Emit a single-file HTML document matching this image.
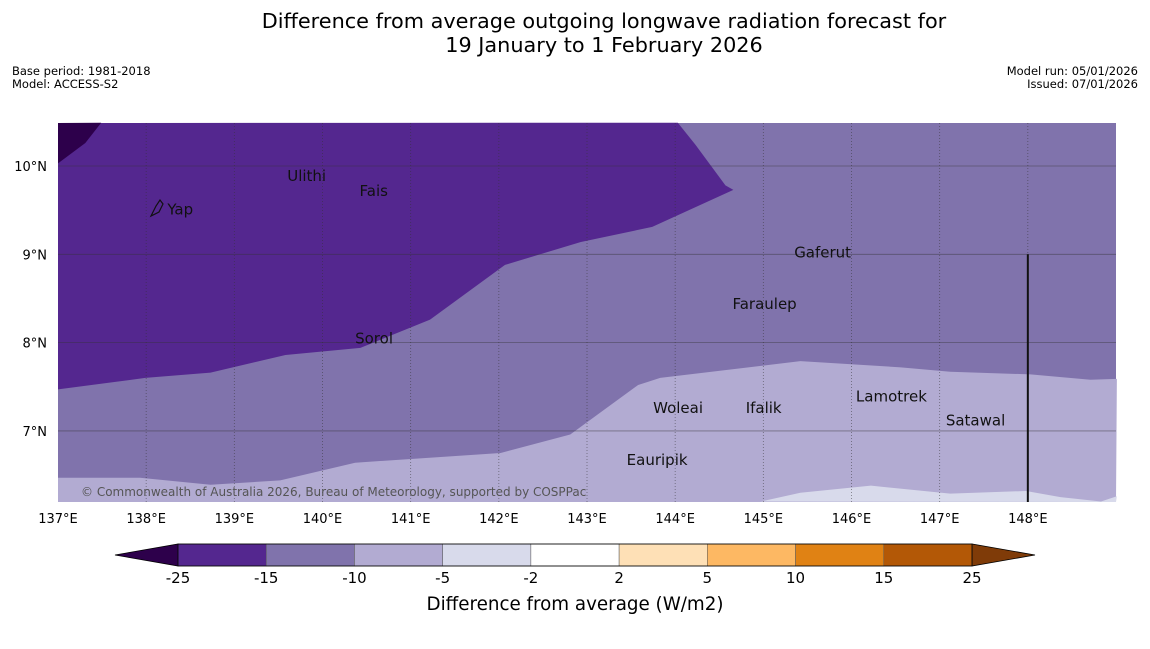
<!DOCTYPE html>
<html><head><meta charset="utf-8"><style>
body{margin:0;background:#fff;font-family:"Liberation Sans","DejaVu Sans",sans-serif;}
svg text{font-family:"DejaVu Sans","Liberation Sans",sans-serif;}
</style></head><body>
<svg id="c" width="1150" height="644" xmlns="http://www.w3.org/2000/svg">
<text x="604" y="28" font-size="20.8" text-anchor="middle">Difference from average outgoing longwave radiation forecast for</text>
<text x="604" y="52" font-size="20.8" text-anchor="middle">19 January to 1 February 2026</text>
<text x="12" y="75" font-size="11.5">Base period: 1981-2018</text>
<text x="12" y="88" font-size="11.5">Model: ACCESS-S2</text>
<text x="1138" y="75" font-size="11.5" text-anchor="end">Model run: 05/01/2026</text>
<text x="1138" y="88" font-size="11.5" text-anchor="end">Issued: 07/01/2026</text>
<g id="map"></g>
<g id="cb"></g>
</svg>
<script>
const lonTicks=[137,138,139,140,141,142,143,144,145,146,147,148];
const latTicks=[10,9,8,7];
const darkestPoly=[[137,10.03],[137.31,10.26],[137.49,10.49]];
const darkBoundary=[[144.03,10.49],[144.23,10.24],[144.57,9.78],[144.66,9.73],[143.74,9.31],[142.93,9.14],[142.07,8.88],[141.22,8.26],[140.43,7.94],[139.58,7.86],[138.73,7.66],[137.99,7.60],[137,7.47]];
const lightBoundary=[[137,6.47],[137.93,6.47],[138.73,6.39],[139.52,6.44],[140.37,6.64],[142.02,6.75],[142.81,6.96],[143.58,7.52],[143.83,7.60],[145.42,7.79],[146.56,7.72],[147.12,7.67],[148.03,7.64],[148.71,7.58],[149.01,7.59]];
const lightestBoundary=[[144.97,6.2],[145.42,6.30],[146.22,6.38],[147.12,6.29],[147.98,6.32],[148.37,6.25],[148.83,6.2],[149.01,6.26]];
const places=["Yap","Ulithi","Fais","Gaferut","Faraulep","Sorol","Woleai","Ifalik","Lamotrek","Satawal","Eauripik"];
const placeLon=[138.24,139.6,140.42,145.35,144.65,140.37,143.75,144.8,146.05,147.07,143.45];
const placeLat=[9.52,9.9,9.73,9.03,8.45,8.06,7.27,7.27,7.4,7.13,6.68];
const cbLevels=["-25","-15","-10","-5","-2","2","5","10","15","25"];
const cbColors=["#54278f","#8073ac","#b2abd2","#d8daeb","#ffffff","#fee0b6","#fdb863","#e08214","#b35806"];
const NS="http://www.w3.org/2000/svg";
const X0=58,X1=1116,Y0=123,Y1=502,LON0=137,LON1=149,LATT=10.487,LATB=6.195;
const px=l=>X0+(l-LON0)/(LON1-LON0)*(X1-X0);
const py=l=>Y0+(LATT-l)/(LATT-LATB)*(Y1-Y0);
function mk(t,a,p){const e=document.createElementNS(NS,t);for(const k in a)e.setAttribute(k,a[k]);(p||map).appendChild(e);return e;}
const map=document.getElementById('map');
const pts=a=>a.map(p=>px(p[0])+','+py(p[1])).join(' ');
let e;
e=mk('rect',{x:X0,y:Y0,width:X1-X0,height:Y1-Y0,fill:'#8073ac'});

e=mk('polygon',{points:pts([[137,LATT]].concat(darkBoundary)),fill:'#54278f'});

e=mk('polygon',{points:pts([[137,LATT]].concat(darkestPoly)),fill:'#2d004b'});

e=mk('polygon',{points:pts(lightBoundary.concat([[149,LATB],[137,LATB]])),fill:'#b2abd2'});

e=mk('polygon',{points:pts(lightestBoundary.concat([[149,LATB]])),fill:'#d8daeb'});

lonTicks.forEach(l=>{
 if(l>137){e=mk('line',{x1:px(l),x2:px(l),y1:Y0,y2:Y1,stroke:'#333',"stroke-width":0.8,"stroke-dasharray":"1,2",opacity:0.6});
 }
 e=mk('text',{x:px(l),y:523,"font-size":13,"text-anchor":"middle"});e.textContent=l+'°E';
 
});
latTicks.forEach(l=>{
 e=mk('line',{x1:X0,x2:X1,y1:py(l),y2:py(l),stroke:'#333',"stroke-width":0.8,opacity:0.5});
 
 e=mk('text',{x:47,y:py(l)+5,"font-size":13,"text-anchor":"end"});e.textContent=l+'°N';
 
});
e=mk('line',{x1:px(148),x2:px(148),y1:py(9),y2:Y1,stroke:'#111',"stroke-width":2});

e=mk('path',{d:'M151,216 L156,206 L160,200 L163,204 L159,212 Z',fill:'none',stroke:'#111',"stroke-width":1.2});

places.forEach((n,i)=>{
 e=mk('text',{x:px(placeLon[i]),y:py(placeLat[i])+6,"font-size":15,fill:'#111'});e.textContent=n;
 
});
e=mk('text',{x:81,y:496,"font-size":12,fill:'#555'});e.textContent='© Commonwealth of Australia 2026, Bureau of Meteorology, supported by COSPPac';

const cb=document.getElementById('cb');
const CX0=178,CX1=972,CY0=544,CY1=566,w=(CX1-CX0)/cbColors.length;
e=mk('polygon',{points:`115,555 ${CX0},${CY0} ${CX0},${CY1}`,fill:'#2d004b',stroke:'#000',"stroke-width":0.8},cb);

e=mk('polygon',{points:`1035,555 ${CX1},${CY0} ${CX1},${CY1}`,fill:'#7f3b08',stroke:'#000',"stroke-width":0.8},cb);

cbColors.forEach((c,i)=>{
 e=mk('rect',{x:CX0+i*w,y:CY0,width:w,height:CY1-CY0,fill:c,stroke:'#555',"stroke-width":0.5},cb);
 
});
e=mk('rect',{x:CX0,y:CY0,width:CX1-CX0,height:CY1-CY0,fill:'none',stroke:'#000',"stroke-width":0.8},cb);

cbLevels.forEach((t,i)=>{
 e=mk('text',{x:CX0+i*w,y:583,"font-size":15,"text-anchor":"middle"},cb);e.textContent=t;
 
});
e=mk('text',{x:575,y:610,"font-size":18.3,"text-anchor":"middle"},cb);e.textContent='Difference from average (W/m2)';

</script>
</body></html>
